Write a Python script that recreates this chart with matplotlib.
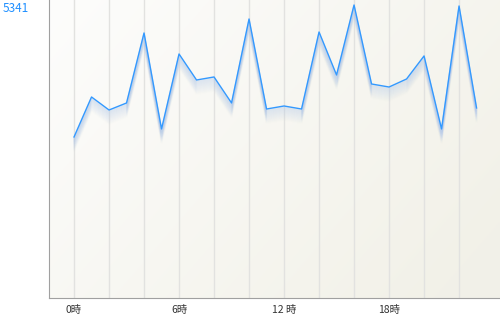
import matplotlib
matplotlib.use("Agg")
import matplotlib.pyplot as plt
import matplotlib.transforms as transforms
import numpy as np

plt.rcParams['font.family'] = ['Noto Sans CJK JP', 'DejaVu Sans']

# hourly values
hours = list(range(24))
values = [2935, 3664, 3427, 3555, 4831, 3081, 4448, 3974, 4029, 3555, 5086, 3445,
          3500, 3445, 4849, 4065, 5341, 3901, 3846, 3992, 4412, 3081, 5323, 3464]
tickHours = [0, 6, 12, 18]
tickLabels = ["0時", "6時", "12 時", "18時"]
maxLabel = "5341"

fig = plt.figure(figsize=(5, 3.17), dpi=100)
ax = fig.add_axes([49 / 500, 19 / 317, 451 / 500, 298 / 317])

ax.set_xlim(-1.43, 24.34)
ax.set_ylim(0, 5432)

# soft beige background gradient, lighter at the top left
gx, gy = np.meshgrid(np.linspace(0, 1, 200), np.linspace(0, 1, 200))
t = np.clip(0.7 * gx + 0.4 * gy, 0, 1)
light = np.array([0.992, 0.992, 0.988])
dark = np.array([0.949, 0.945, 0.91])
img = light[None, None, :] * (1 - t[..., None]) + dark[None, None, :] * t[..., None]
ax.imshow(img, extent=[0, 1, 0, 1], transform=ax.transAxes, aspect='auto', zorder=0, origin='upper')

# vertical grid every 2 hours
for h in range(0, 24, 2):
    ax.axvline(h, color='#e2e2e0', lw=1, zorder=1)

# fading shadow under the line
for i in range(1, 15):
    tr = transforms.offset_copy(ax.transData, fig=fig, x=0, y=-i, units='dots')
    ax.plot(hours, values, color='#a9c3e8', lw=1.2, alpha=0.25 * (1 - i / 15), transform=tr, zorder=2)

ax.plot(hours, values, color='#3399ff', lw=1.0, zorder=3)

ax.set_xticks(tickHours)
ax.set_xticklabels(tickLabels, fontsize=7.5, color='#333333')
ax.tick_params(axis='x', length=0, pad=5)
ax.set_yticks([])

for side in ['top', 'right']:
    ax.spines[side].set_visible(False)
ax.spines['left'].set_color('#a0a0a0')
ax.spines['bottom'].set_color('#a0a0a0')

fig.text(3 / 500, 1 - 8 / 317, maxLabel, color='#1e8fff', fontsize=8.5, va='center', ha='left')

fig.savefig("out.png", dpi=100)
